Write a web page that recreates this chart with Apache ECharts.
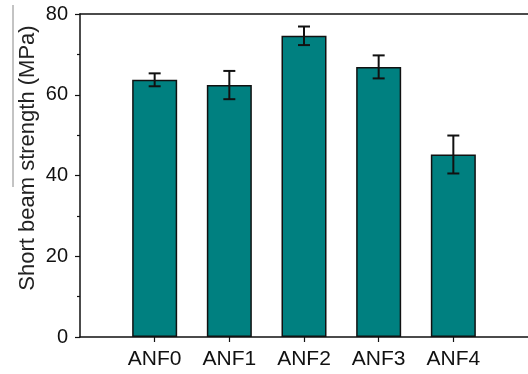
<!DOCTYPE html>
<html>
<head>
<meta charset="utf-8">
<script src="https://cdn.jsdelivr.net/npm/echarts@6/dist/echarts.min.js"></script>
<style>
html,body{margin:0;padding:0;background:#fff;}
#chart{width:528px;height:374px;}
</style>
</head>
<body>
<div id="chart"></div>
<script>
const categories = ['ANF0', 'ANF1', 'ANF2', 'ANF3', 'ANF4'];
const strength = [63.7, 62.4, 74.6, 66.9, 45.2];
const errors = [1.6, 3.5, 2.3, 2.85, 4.7];
const yTicks = [0, 20, 40, 60, 80];
const yTitle = 'Short beam strength (MPa)';

// padded category list: empty slot on both sides
const axisCats = [''].concat(categories, ['']);
const barData = axisCats.map(c => {
  const i = categories.indexOf(c);
  return i >= 0 ? strength[i] : '-';
});
const errData = categories.map((c, i) => [c, strength[i], errors[i]]);

const font = 'Liberation Sans, Arial, sans-serif';
const chart = echarts.init(document.getElementById('chart'), null, {renderer: 'canvas'});
chart.setOption({
  animation: false,
  backgroundColor: '#fff',
  grid: {left: 80, top: 14, right: -3, bottom: 37},
  xAxis: [{
    type: 'category',
    data: axisCats,
    boundaryGap: false,
    axisLine: {lineStyle: {color: '#111', width: 1.5}},
    axisTick: {show: true, inside: false, length: 5, lineStyle: {color: '#111', width: 1.2},
      interval: (idx, val) => val !== ''},
    axisLabel: {color: '#111', fontSize: 21, fontFamily: font, margin: 12,
      interval: (idx, val) => val !== ''},
    splitLine: {show: false}
  }, {
    type: 'category',
    position: 'top',
    data: axisCats,
    boundaryGap: false,
    axisLine: {show: true, lineStyle: {color: '#111', width: 1.5}},
    axisTick: {show: false},
    axisLabel: {show: false},
    splitLine: {show: false}
  }],
  yAxis: {
    type: 'value',
    min: yTicks[0],
    max: yTicks[yTicks.length - 1],
    interval: 20,
    axisLine: {show: true, lineStyle: {color: '#111', width: 1.5}},
    axisTick: {show: true, inside: false, length: 5, lineStyle: {color: '#111', width: 1.2}},
    minorTick: {show: true, splitNumber: 2, length: 3, lineStyle: {color: '#111', width: 1.2}},
    axisLabel: {color: '#111', fontSize: 20, fontFamily: font, margin: 12},
    splitLine: {show: false}
  },
  graphic: [
    {type: 'text', x: 28, y: 158, rotation: Math.PI / 2,
      style: {text: yTitle, fill: '#222', font: '22px ' + font, align: 'center', verticalAlign: 'middle'}},
    {type: 'line', shape: {x1: 13, y1: 5, x2: 13, y2: 187}, style: {stroke: '#888', lineWidth: 1}}
  ],
  series: [
    {
      type: 'bar',
      data: barData,
      barWidth: 45,
      itemStyle: {color: '#008080', borderColor: '#111', borderWidth: 1.5}
    },
    {
      type: 'custom',
      data: errData,
      z: 10,
      renderItem: function (params, api) {
        const x = api.value(0);
        const v = api.value(1);
        const e = api.value(2);
        const top = api.coord([x, v + e]);
        const bot = api.coord([x, v - e]);
        const hw = 6;
        const st = {stroke: '#111', lineWidth: 2};
        return {
          type: 'group',
          children: [
            {type: 'line', shape: {x1: top[0], y1: top[1], x2: bot[0], y2: bot[1]}, style: st},
            {type: 'line', shape: {x1: top[0] - hw, y1: top[1], x2: top[0] + hw, y2: top[1]}, style: st},
            {type: 'line', shape: {x1: bot[0] - hw, y1: bot[1], x2: bot[0] + hw, y2: bot[1]}, style: st}
          ]
        };
      }
    }
  ]
});
</script>
</body>
</html>
